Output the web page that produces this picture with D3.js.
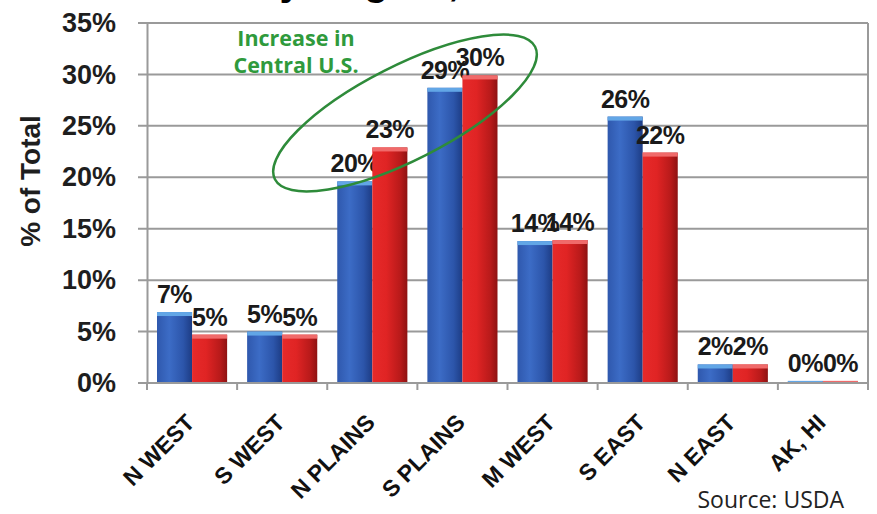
<!doctype html>
<html>
<head>
	<script src="https://d3js.org/d3.v7.min.js"></script>
	<style>
		body { margin: 0; background: #fff; }
	</style>
</head>
<body>
	<div id="viz">
		<svg style="width:877px;height:514px;"></svg>
	</div>
	<script>

		var regions = ["N WEST", "S WEST", "N PLAINS", "S PLAINS", "M WEST", "S EAST", "N EAST", "AK, HI"];
		var blueValues = [6.9, 5.0, 19.6, 28.7, 13.8, 25.9, 1.8, 0.2];
		var redValues = [4.7, 4.7, 22.9, 29.9, 13.9, 22.4, 1.8, 0.2];
		var yTicks = [0, 5, 10, 15, 20, 25, 30, 35];

		var svg = d3.select("svg");
		var margin = {top: 23, right: 9, bottom: 131, left: 147};
		var width = 877 - margin.left - margin.right;
		var height = 514 - margin.top - margin.bottom;
		var font = "Arial, 'Liberation Sans', sans-serif";

		var xScale = d3.scaleBand()
			.domain(regions)
			.range([margin.left, margin.left + width])
			.paddingInner(0.222)
			.paddingOuter(0.111);

		var xOuter = d3.scaleBand()
			.domain(regions)
			.range([margin.left, margin.left + width]);

		var yScale = d3.scaleLinear()
			.domain([0, 35])
			.range([margin.top + height, margin.top]);

		// gradients
		var defs = svg.append("defs");
		function grad(id, stops) {
			var g = defs.append("linearGradient").attr("id", id)
				.attr("x1", "0%").attr("x2", "100%").attr("y1", "0%").attr("y2", "0%");
			stops.forEach(s => g.append("stop").attr("offset", s[0]).attr("stop-color", s[1]));
		}
		grad("blueGrad", [["0%", "#2f58ad"], ["35%", "#3c6cc6"], ["75%", "#2c55aa"], ["100%", "#1d3c84"]]);
		grad("redGrad", [["0%", "#e62a2a"], ["40%", "#e02424"], ["80%", "#b81a1a"], ["100%", "#8e1212"]]);

		// title fragment cut off at the top
		svg.append("text")
			.attr("x", 255).attr("y", -5)
			.attr("font-family", font).attr("font-weight", "bold").attr("font-size", 40)
			.text("by Region,");

		// gridlines
		svg.append("g")
			.selectAll("line")
			.data(yTicks)
			.enter()
			.append("line")
				.attr("x1", margin.left - 9)
				.attr("x2", margin.left + width)
				.attr("y1", d => yScale(d))
				.attr("y2", d => yScale(d))
				.attr("stroke", "#9a9a9a")
				.attr("stroke-width", 2);

		// right frame
		svg.append("line")
			.attr("x1", margin.left + width).attr("x2", margin.left + width)
			.attr("y1", margin.top).attr("y2", margin.top + height + 6)
			.attr("stroke", "#9a9a9a").attr("stroke-width", 2);

		// y axis
		var yAxis = d3.axisLeft(yScale)
			.tickValues(yTicks)
			.tickSize(0)
			.tickPadding(31)
			.tickFormat(d => d + "%");

		svg.append("g")
			.attr("id", "yAxisG")
			.attr("transform", "translate(" + margin.left + ",0)")
			.call(yAxis)
			.call(g => g.select(".domain").attr("stroke", "#9a9a9a").attr("stroke-width", 2))
			.call(g => g.selectAll("text")
				.attr("font-family", font).attr("font-weight", "bold").attr("font-size", 27).attr("fill", "#1e1e1e"));

		// bars
		function drawBars(values, fill, cap, offset) {
			var g = svg.append("g");
			g.selectAll("rect.bar")
				.data(values)
				.enter()
				.append("rect")
					.attr("class", "bar")
					.attr("x", (d, i) => xScale(regions[i]) + offset)
					.attr("width", xScale.bandwidth() / 2)
					.attr("y", d => yScale(d))
					.attr("height", d => yScale(0) - yScale(d))
					.attr("fill", fill);
			g.selectAll("rect.cap")
				.data(values)
				.enter()
				.append("rect")
					.attr("class", "cap")
					.attr("x", (d, i) => xScale(regions[i]) + offset)
					.attr("width", xScale.bandwidth() / 2)
					.attr("y", d => yScale(d))
					.attr("height", d => Math.min(4, yScale(0) - yScale(d)))
					.attr("fill", cap);
			g.selectAll("text")
				.data(values)
				.enter()
				.append("text")
					.attr("x", (d, i) => xScale(regions[i]) + offset + xScale.bandwidth() / 4)
					.attr("y", d => yScale(d) - 9)
					.attr("text-anchor", "middle")
					.attr("font-family", font).attr("font-weight", "bold").attr("font-size", 25)
					.attr("letter-spacing", -0.5)
					.attr("fill", "#1a1a1a")
					.text(d => Math.round(d) + "%");
		}
		drawBars(blueValues, "url(#blueGrad)", "#62a6e6", 0);
		drawBars(redValues, "url(#redGrad)", "#f06a6a", xScale.bandwidth() / 2);

		// x axis
		var xAxisG = svg.append("g")
			.attr("id", "xAxisG")
			.attr("transform", "translate(0," + (margin.top + height) + ")");

		xAxisG.append("line")
			.attr("x1", margin.left - 9).attr("x2", margin.left + width)
			.attr("stroke", "#9a9a9a").attr("stroke-width", 2);

		xAxisG.selectAll("line.tick")
			.data(regions.concat(["end"]))
			.enter()
			.append("line")
				.attr("class", "tick")
				.attr("x1", (d, i) => margin.left + i * xOuter.step())
				.attr("x2", (d, i) => margin.left + i * xOuter.step())
				.attr("y1", 0).attr("y2", 7)
				.attr("stroke", "#9a9a9a").attr("stroke-width", 2);

		xAxisG.selectAll("text")
			.data(regions)
			.enter()
			.append("text")
				.attr("transform", d => "translate(" + (xOuter(d) + xOuter.bandwidth() / 2 + 4) + ",41) rotate(-45)")
				.attr("text-anchor", "end")
				.attr("font-family", font).attr("font-weight", "bold").attr("font-size", 23)
				.attr("fill", "#111")
				.text(d => d);

		// y axis title
		svg.append("text")
			.attr("transform", "translate(40,181) rotate(-90)")
			.attr("text-anchor", "middle")
			.attr("font-family", font).attr("font-weight", "bold").attr("font-size", 28)
			.attr("fill", "#1e1e1e")
			.text("% of Total");

		// annotation
		svg.append("ellipse")
			.attr("cx", 405).attr("cy", 113)
			.attr("rx", 146).attr("ry", 47)
			.attr("transform", "rotate(-27,405,113)")
			.attr("fill", "none")
			.attr("stroke", "#2e8b3a").attr("stroke-width", 2.5);

		var note = svg.append("text")
			.attr("text-anchor", "middle")
			.attr("font-family", "'Open Sans', Lato, sans-serif").attr("font-weight", "bold").attr("font-size", 21.5)
			.attr("fill", "#2f9a3c");
		note.append("tspan").attr("x", 296).attr("y", 46).text("Increase in");
		note.append("tspan").attr("x", 296).attr("y", 73).text("Central U.S.");

		// source
		svg.append("text")
			.attr("x", 844).attr("y", 508)
			.attr("text-anchor", "end")
			.attr("font-family", "'Open Sans', sans-serif").attr("font-size", 23)
			.attr("fill", "#222")
			.text("Source:  USDA");

	</script>
</body>
</html>
